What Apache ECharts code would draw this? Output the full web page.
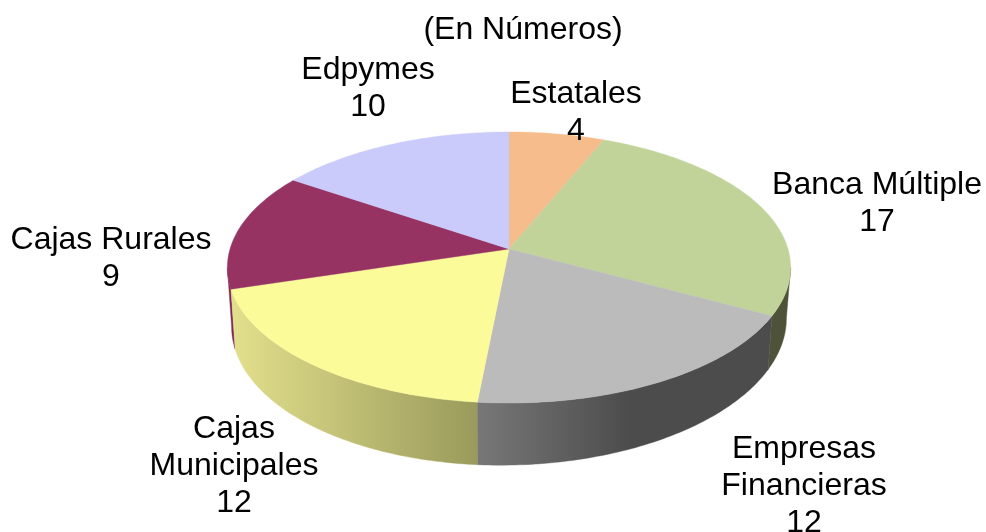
<!DOCTYPE html>
<html><head><meta charset="utf-8">
<style>html,body{margin:0;padding:0;background:#fff}#c{width:986px;height:532px}</style>
<script src="https://cdn.jsdelivr.net/npm/echarts@6/dist/echarts.min.js"></script>
</head><body><div id="c"></div>
<script>
const categories = ['Estatales', 'Banca Múltiple', 'Empresas\nFinancieras', 'Cajas\nMunicipales', 'Cajas Rurales', 'Edpymes'];
const values = [4, 17, 12, 12, 9, 10];
const topColors = ['#F6BC8B', '#C2D39A', '#BBBBBB', '#FBFB9A', '#973363', '#CACAFB'];
const wallStops = [
  ['#C49670', '#C49670'], ['#50553A', '#4E5238'], ['#777777', '#4C4C4C'],
  ['#E2E08C', '#9A9A5B'], ['#7E2A55', '#7E2A55'], ['#9A9AC0', '#9A9AC0']
];
const wallRange = [[509, 603], [603, 790], [478, 630], [232, 478], [227, 292], [292, 509]];
const labelCentres = [[576, 113], [877, 204], [804, 486], [234, 466], [111, 259], [368, 89]];
const titleText = '(En Números)';

const total = values.reduce((a, b) => a + b, 0);
const view = {cx: 509, cy: 249, rx: 279, a: 133, k: -0.1365, lowD: 54, lowA: 140, shear: -0.015};
const font = '32px "Liberation Sans", Arial, sans-serif';
const wallFrom = Math.acos(view.k), wallTo = Math.PI * 2 - wallFrom;

function turn(i) { return values.slice(0, i).reduce((a, b) => a + b, 0) / total * Math.PI * 2; }
function project(t, low) {
  const x = Math.sin(t), y = -Math.cos(t), d = 1 + view.k * y;
  const sx = view.rx * (low ? 0.985 : 1) * x / d;
  const sy = low ? view.lowD + view.lowA * y / d + view.shear * sx : view.a * y / d;
  return [view.cx + sx, view.cy + sy];
}
function arc(t0, t1, low) {
  const n = Math.max(8, Math.ceil((t1 - t0) * 60)), pts = [];
  for (let j = 0; j <= n; j++) pts.push(project(t0 + (t1 - t0) * j / n, low));
  return pts;
}

function renderItem(params) {
  const i = params.dataIndex, t0 = turn(i), t1 = turn(i + 1);
  const mid = (t0 + t1) / 2, depth = Math.round(-Math.cos(mid) * 100);
  const top = [[view.cx, view.cy]].concat(arc(t0, t1, false));
  const c = labelCentres[i];
  const children = [
    {type: 'polygon', z2: 300, shape: {points: top},
      style: {fill: topColors[i], stroke: topColors[i], lineWidth: 0.4}},
    {type: 'text', z2: 400, style: {
      text: categories[i] + '\n' + values[i], x: c[0], y: c[1],
      font: font, lineHeight: 37, fill: '#000', align: 'center', verticalAlign: 'middle'
    }}
  ];
  const w0 = Math.max(t0, wallFrom), w1 = Math.min(t1, wallTo);
  if (w1 > w0) {
    const fill = {
      type: 'linear', global: true,
      x: wallRange[i][0], y: 0, x2: wallRange[i][1], y2: 0,
      colorStops: [{offset: 0, color: wallStops[i][0]}, {offset: 1, color: wallStops[i][1]}]
    };
    children.push({type: 'polygon', z2: 100 + depth,
      shape: {points: arc(w0, w1, false).concat(arc(w0, w1, true).reverse())},
      style: {fill: fill, stroke: fill, lineWidth: 0.4}});
  }
  return {type: 'group', children: children};
}

const chart = echarts.init(document.getElementById('c'), null, {renderer: 'canvas'});
chart.setOption({
  animation: false,
  backgroundColor: '#fff',
  title: {
    text: titleText, left: 518, top: 7, textAlign: 'center',
    textStyle: {fontFamily: '"Liberation Sans", Arial, sans-serif', fontSize: 32, fontWeight: 'normal', color: '#000', lineHeight: 37}
  },
  series: [{
    type: 'custom', coordinateSystem: 'none', silent: true, clip: false,
    renderItem: renderItem,
    data: values
  }]
});
</script></body></html>
